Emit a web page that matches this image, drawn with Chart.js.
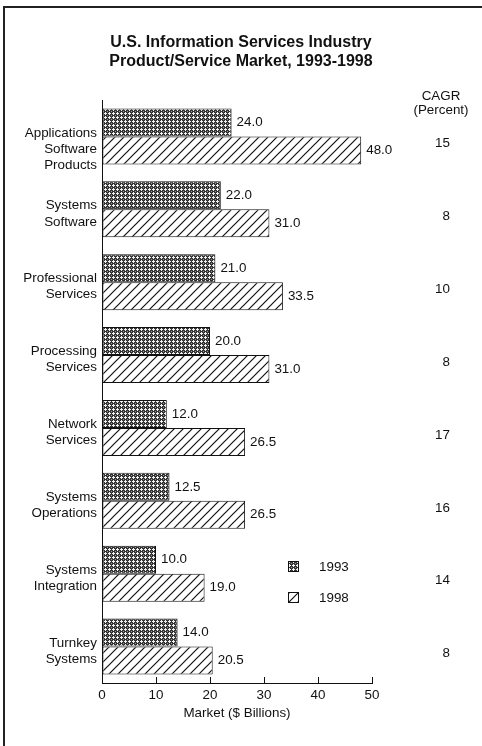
<!DOCTYPE html>
<html>
<head>
<meta charset="utf-8">
<title>U.S. Information Services Industry Product/Service Market, 1993-1998</title>
<script src="https://cdn.jsdelivr.net/npm/chart.js@4.4.1/dist/chart.umd.min.js"></script>
<style>
  html, body { margin: 0; padding: 0; background: #fff; }
  #wrap { position: relative; width: 482px; height: 746px; }
  canvas { display: block; }
</style>
</head>
<body>
<div id="wrap"><canvas id="chart" width="482" height="746"></canvas></div>
<script>
// Product/service segments (one entry per line of the axis label)
const categories = [
  ['Applications', 'Software', 'Products'],
  ['Systems', 'Software'],
  ['Professional', 'Services'],
  ['Processing', 'Services'],
  ['Network', 'Services'],
  ['Systems', 'Operations'],
  ['Systems', 'Integration'],
  ['Turnkey', 'Systems']
];
// Market size, $ billions
const market1993 = [24.0, 22.0, 21.0, 20.0, 12.0, 12.5, 10.0, 14.0];
const market1998 = [48.0, 31.0, 33.5, 31.0, 26.5, 26.5, 19.0, 20.5];
// Compound annual growth rate, percent
const cagr = [15, 8, 10, 8, 17, 16, 14, 8];
const seriesLabels = ['1993', '1998'];
const xTicks = [0, 10, 20, 30, 40, 50];
const titleLines = ['U.S. Information Services Industry', 'Product/Service Market, 1993-1998'];

const FONT = '"Liberation Sans", Arial, Helvetica, sans-serif';
const SIZE = 13.4;
const INK = '#111';

// Fine cross-hatch fill (1993)
function crossPattern() {
  const c = document.createElement('canvas');
  c.width = c.height = 4;
  const g = c.getContext('2d');
  g.fillStyle = '#333';
  g.fillRect(0, 0, 4, 4);
  g.fillStyle = '#f2f2f2';
  [[1, 0], [0, 1], [1, 1], [2, 1], [1, 2]].forEach(([x, y]) => g.fillRect(x, y, 1, 1));
  g.fillStyle = '#9a9a9a';
  g.fillRect(3, 3, 1, 1);
  return g.createPattern(c, 'repeat');
}

// Diagonal "/" hatch fill (1998)
function hatchPattern(size) {
  const c = document.createElement('canvas');
  c.width = c.height = size;
  const g = c.getContext('2d');
  g.fillStyle = '#fff';
  g.fillRect(0, 0, size, size);
  g.strokeStyle = '#111';
  g.lineWidth = 1.2;
  g.beginPath();
  for (const o of [-size, 0, size]) {
    g.moveTo(o - 1, size + 1);
    g.lineTo(o + size + 1, -1);
  }
  g.stroke();
  return g.createPattern(c, 'repeat');
}

const fills = [crossPattern(), hatchPattern(9)];

// Page frame, title, bar value labels, CAGR column and legend
const decorations = {
  id: 'decorations',
  beforeDraw(chart) {
    const ctx = chart.ctx;
    ctx.save();
    ctx.fillStyle = '#fff';
    ctx.fillRect(0, 0, chart.width, chart.height);
    ctx.fillStyle = '#222';
    ctx.fillRect(3, 6, chart.width - 3, 2);
    ctx.fillRect(3, 6, 2, chart.height - 6);

    ctx.fillStyle = INK;
    ctx.font = 'bold 16px ' + FONT;
    ctx.textAlign = 'center';
    ctx.textBaseline = 'middle';
    titleLines.forEach((t, i) => ctx.fillText(t, chart.width / 2, 43 + i * 18.4));
    ctx.restore();
  },
  afterDatasetsDraw(chart) {
    const ctx = chart.ctx;
    const area = chart.chartArea;
    const yScale = chart.scales.y;
    ctx.save();
    ctx.font = SIZE + 'px ' + FONT;
    ctx.fillStyle = INK;
    ctx.textBaseline = 'middle';

    // values at the end of each bar
    ctx.textAlign = 'left';
    chart.data.datasets.forEach((ds, di) => {
      chart.getDatasetMeta(di).data.forEach((bar, i) => {
        ctx.fillText(ds.data[i].toFixed(1), bar.x + 5, bar.y);
      });
    });

    // CAGR column
    const colX = area.right + 69;
    ctx.textAlign = 'center';
    ctx.fillText('CAGR', colX, 96);
    ctx.fillText('(Percent)', colX, 110);
    ctx.textAlign = 'right';
    cagr.forEach((v, i) => {
      ctx.fillText(String(v), colX + 9, yScale.getPixelForValue(i) + 7);
    });

    // legend
    const lx = area.left + 186;
    const ly = 561;
    chart.data.datasets.forEach((ds, di) => {
      const top = ly + di * 31;
      ctx.fillStyle = ds.backgroundColor;
      ctx.fillRect(lx, top, 11, 11);
      ctx.strokeStyle = INK;
      ctx.lineWidth = 1;
      ctx.strokeRect(lx + 0.5, top + 0.5, 10, 10);
      ctx.fillStyle = INK;
      ctx.textAlign = 'left';
      ctx.fillText(ds.label, lx + 31, top + 6);
    });
    ctx.restore();
  }
};

new Chart(document.getElementById('chart'), {
  type: 'bar',
  data: {
    labels: categories,
    datasets: [
      { label: seriesLabels[0], data: market1993, backgroundColor: fills[0] },
      { label: seriesLabels[1], data: market1998, backgroundColor: fills[1] }
    ]
  },
  options: {
    indexAxis: 'y',
    responsive: false,
    devicePixelRatio: 1,
    animation: false,
    events: [],
    layout: { padding: { left: 0, right: 110, top: 100, bottom: 0 } },
    datasets: {
      bar: {
        borderColor: INK,
        borderWidth: 1,
        borderSkipped: false,
        barPercentage: 1,
        categoryPercentage: 0.768
      }
    },
    plugins: {
      legend: { display: false },
      tooltip: { enabled: false },
      title: { display: false }
    },
    scales: {
      x: {
        type: 'linear',
        min: xTicks[0],
        max: xTicks[xTicks.length - 1],
        afterBuildTicks(scale) { scale.ticks = xTicks.map(v => ({ value: v })); },
        afterFit(scale) { scale.height = 63; },
        grid: { drawOnChartArea: false, drawTicks: true, tickLength: -6, color: INK, lineWidth: 1 },
        border: { display: true, color: INK, width: 1 },
        ticks: { color: INK, font: { family: FONT, size: SIZE }, padding: 10, maxRotation: 0 },
        title: {
          display: true,
          text: 'Market ($ Billions)',
          color: INK,
          font: { family: FONT, size: SIZE },
          padding: { top: 0, bottom: 25 }
        }
      },
      y: {
        type: 'category',
        afterFit(scale) { scale.width = 102; },
        grid: { display: false, drawTicks: false },
        border: { display: true, color: INK, width: 1 },
        ticks: {
          color: INK,
          font: { family: FONT, size: SIZE, lineHeight: 1.2 },
          padding: 5,
          labelOffset: 12.5,
          autoSkip: false,
          callback(value, index) {
            const lines = categories[index].slice();
            while (lines.length < 3) lines.push('');
            return lines;
          }
        }
      }
    }
  },
  plugins: [decorations]
});
</script>
</body>
</html>
